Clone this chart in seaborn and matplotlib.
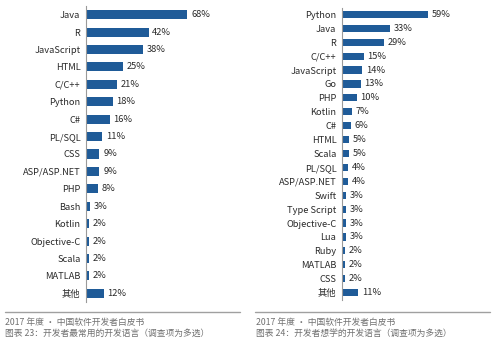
import matplotlib
matplotlib.use("Agg")
import matplotlib.pyplot as plt
import seaborn as sns
import pandas as pd
from matplotlib.lines import Line2D

sns.set_theme(style="white")
plt.rcParams['font.family'] = ['Noto Sans CJK SC', 'DejaVu Sans']

left_langs = ["Java", "R", "JavaScript", "HTML", "C/C++", "Python", "C#", "PL/SQL", "CSS",
              "ASP/ASP.NET", "PHP", "Bash", "Kotlin", "Objective-C", "Scala", "MATLAB", "其他"]
left_vals = [68, 42, 38, 25, 21, 18, 16, 11, 9, 9, 8, 3, 2, 2, 2, 2, 12]

right_langs = ["Python", "Java", "R", "C/C++", "JavaScript", "Go", "PHP", "Kotlin", "C#", "HTML",
               "Scala", "PL/SQL", "ASP/ASP.NET", "Swift", "Type Script", "Objective-C", "Lua",
               "Ruby", "MATLAB", "CSS", "其他"]
right_vals = [59, 33, 29, 15, 14, 13, 10, 7, 6, 5, 5, 4, 4, 3, 3, 3, 3, 2, 2, 2, 11]

captions_left = ["2017 年度 · 中国软件开发者白皮书", "图表 23：开发者最常用的开发语言（调查项为多选）"]
captions_right = ["2017 年度 · 中国软件开发者白皮书", "图表 24：开发者想学的开发语言（调查项为多选）"]

W, H = 500, 343
fig = plt.figure(figsize=(5, 3.43), dpi=100)
bar_color = "#1f5b98"
text_color = "#2a2a2a"


def panel(x0, width_px, top_px, bottom_px, langs, vals, bar_h):
    ax = fig.add_axes([x0 / W, 1 - bottom_px / H, width_px / W, (bottom_px - top_px) / H])
    df = pd.DataFrame({"lang": langs, "val": vals})
    sns.barplot(data=df, y="lang", x="val", color=bar_color, width=bar_h, ax=ax,
                saturation=1, edgecolor="none")
    ax.set_xlim(0, 100)
    ax.set_ylim(len(langs) - 0.5, -0.5)
    ax.set_xlabel("")
    ax.set_ylabel("")
    ax.set_xticks([])
    for s in ["top", "right", "bottom"]:
        ax.spines[s].set_visible(False)
    ax.spines["left"].set_color("#9a9a9a")
    ax.spines["left"].set_linewidth(0.8)
    ax.tick_params(axis="y", length=0, pad=4, labelsize=6.7, labelcolor=text_color)
    for i, v in enumerate(vals):
        ax.text(v + 2.5, i, f"{v}%", va="center", ha="left", fontsize=6.7, color=text_color)
    ax.patch.set_alpha(0)
    return ax


panel(86, 149, 6, 302, left_langs, left_vals, 0.52)
panel(342, 146, 7.5, 299.5, right_langs, right_vals, 0.52)

for x1, x2 in [(5, 240), (255, 490)]:
    fig.add_artist(Line2D([x1 / W, x2 / W], [1 - 312 / H, 1 - 312 / H], color="#a0a0a0", lw=1.0))

for x, caps in [(5, captions_left), (256, captions_right)]:
    fig.text(x / W, 1 - 322 / H, caps[0], fontsize=6.3, color="#707070", va="center", ha="left")
    fig.text(x / W, 1 - 333 / H, caps[1], fontsize=6.3, color="#707070", va="center", ha="left")

fig.savefig("out.png", dpi=100, facecolor="white")
